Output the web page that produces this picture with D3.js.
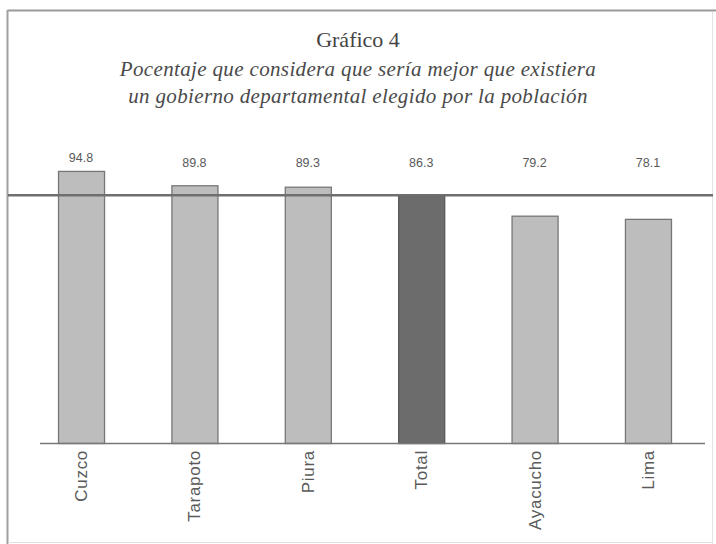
<!DOCTYPE html>
<html>
<head>
<meta charset="utf-8">
<script src="https://cdn.jsdelivr.net/npm/d3@7"></script>
<style>
  html, body { margin: 0; padding: 0; background: #fff; }
  svg { display: block; }
</style>
</head>
<body>
<svg id="chart" width="716" height="544"></svg>
<script>
// Survey results: share preferring an elected departmental government
const categories = ["Cuzco", "Tarapoto", "Piura", "Total", "Ayacucho", "Lima"];
const values = [94.8, 89.8, 89.3, 86.3, 79.2, 78.1];
const valueLabels = ["94.8", "89.8", "89.3", "86.3", "79.2", "78.1"];
const referenceCategory = "Total";

const titleText = "Gráfico 4";
const subtitleLines = [
  "Pocentaje que considera que sería mejor que existiera",
  "un gobierno departamental elegido por la población"
];

const svg = d3.select("#chart");

// Frame around the figure
svg.append("line").attr("x1", 7.5).attr("x2", 716).attr("y1", 10.5).attr("y2", 10.5)
  .attr("stroke", "#9a9a9a").attr("stroke-width", 2);
svg.append("line").attr("x1", 7.5).attr("x2", 7.5).attr("y1", 10).attr("y2", 544)
  .attr("stroke", "#a0a0a0").attr("stroke-width", 2);
svg.append("line").attr("x1", 712.5).attr("x2", 712.5).attr("y1", 12).attr("y2", 544)
  .attr("stroke", "#e4e4e4").attr("stroke-width", 1);
svg.append("line").attr("x1", 8).attr("x2", 712).attr("y1", 542.5).attr("y2", 542.5)
  .attr("stroke", "#e0e0e0").attr("stroke-width", 1);

// Titles
svg.append("text")
  .attr("x", 358).attr("y", 47)
  .attr("text-anchor", "middle")
  .attr("font-family", "'Liberation Serif', 'DejaVu Serif', serif")
  .attr("font-size", 22)
  .attr("fill", "#444")
  .text(titleText);

svg.selectAll("text.subtitle")
  .data(subtitleLines)
  .join("text")
  .attr("class", "subtitle")
  .attr("x", 358)
  .attr("y", (d, i) => 76 + i * 27)
  .attr("text-anchor", "middle")
  .attr("font-family", "'Liberation Serif', 'DejaVu Serif', serif")
  .attr("font-style", "italic")
  .attr("font-size", 21)
  .attr("letter-spacing", 0.35)
  .attr("fill", "#4a4a4a")
  .text(d => d);

// Scales
const x = d3.scaleBand()
  .domain(categories)
  .range([24, 705])
  .paddingInner(0.594)
  .paddingOuter(0.3);

const y = d3.scaleLinear()
  .domain([0, 100])
  .range([443, 156]);

const data = categories.map((c, i) => ({ cat: c, v: values[i], label: valueLabels[i] }));

// Bars
svg.selectAll("rect.bar")
  .data(data)
  .join("rect")
  .attr("class", "bar")
  .attr("x", d => x(d.cat) + 0.5)
  .attr("y", d => y(d.v) + 0.5)
  .attr("width", x.bandwidth())
  .attr("height", d => y(0) - y(d.v))
  .attr("fill", d => d.cat === referenceCategory ? "#6c6c6c" : "#bdbdbd")
  .attr("stroke", d => d.cat === referenceCategory ? "#5a5a5a" : "#777")
  .attr("stroke-width", 1.3);

// Reference line at the overall total
const refValue = values[categories.indexOf(referenceCategory)];
svg.append("line")
  .attr("x1", 8).attr("x2", 713)
  .attr("y1", y(refValue)).attr("y2", y(refValue))
  .attr("stroke", "#6f6f6f")
  .attr("stroke-width", 2.5);

// Baseline axis
const xAxis = d3.axisBottom(x).tickSize(0).tickPadding(6);
const axisG = svg.append("g")
  .attr("transform", `translate(0, ${y(0)})`)
  .call(xAxis);
axisG.select(".domain")
  .attr("d", `M40,0.5H705`)
  .attr("stroke", "#777")
  .attr("stroke-width", 1.5);
axisG.selectAll(".tick text")
  .attr("transform", "rotate(-90)")
  .attr("text-anchor", "end")
  .attr("x", -7)
  .attr("y", 0)
  .attr("dy", "0.35em")
  .attr("font-family", "'Liberation Sans', Arial, sans-serif")
  .attr("font-size", 17)
  .attr("letter-spacing", 0.7)
  .attr("fill", "#5a5a5a");

// Value labels above the bars
svg.selectAll("text.value")
  .data(data)
  .join("text")
  .attr("class", "value")
  .attr("x", d => x(d.cat) + x.bandwidth() / 2)
  .attr("y", d => Math.min(167, y(d.v) - 9))
  .attr("text-anchor", "middle")
  .attr("font-family", "'Liberation Sans', Arial, sans-serif")
  .attr("font-size", 12.5)
  .attr("fill", "#5a5a5a")
  .text(d => d.label);
</script>
</body>
</html>
